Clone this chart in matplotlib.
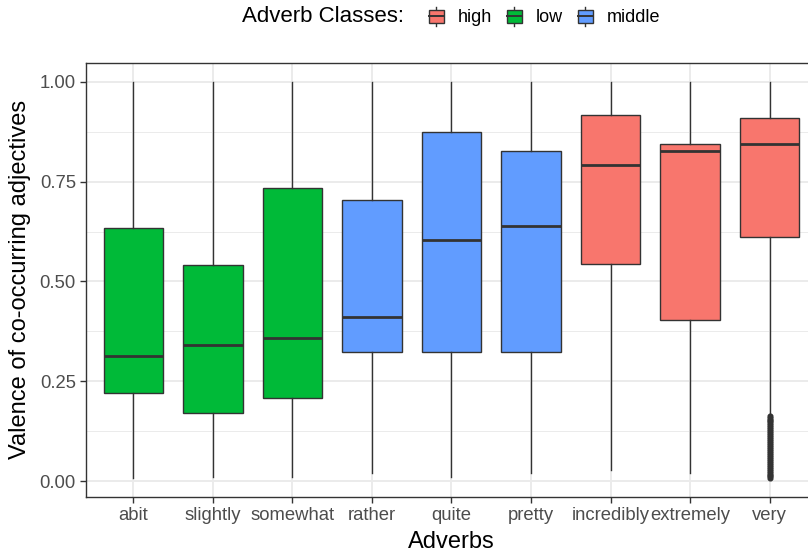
import numpy as np
import matplotlib.pyplot as plt
from matplotlib.patches import Rectangle
from matplotlib.lines import Line2D
from matplotlib.legend_handler import HandlerBase

plt.rcParams['font.family'] = ['Liberation Sans', 'DejaVu Sans']

# box statistics per adverb (valence of co-occurring adjectives)
adverbs = ["abit", "slightly", "somewhat", "rather", "quite", "pretty",
           "incredibly", "extremely", "very"]
classes = ["low", "low", "low", "middle", "middle", "middle",
           "high", "high", "high"]
q1 = [0.220, 0.170, 0.209, 0.324, 0.324, 0.324, 0.543, 0.403, 0.612]
med = [0.314, 0.341, 0.358, 0.410, 0.604, 0.640, 0.792, 0.827, 0.845]
q3 = [0.633, 0.541, 0.734, 0.703, 0.874, 0.826, 0.917, 0.845, 0.909]
whis_lo = [0.008, 0.009, 0.009, 0.021, 0.009, 0.021, 0.028, 0.021, 0.167]
whis_hi = [1.0, 1.0, 1.0, 1.0, 1.0, 1.0, 1.0, 1.0, 1.0]
# low outliers for "very"
very_out = [0.163, 0.158, 0.154, 0.150, 0.145, 0.140, 0.136, 0.131, 0.126,
            0.121, 0.116, 0.111, 0.106, 0.101, 0.096, 0.091, 0.086, 0.081,
            0.076, 0.071, 0.066, 0.061, 0.056, 0.051, 0.046, 0.041, 0.036,
            0.031, 0.026, 0.021, 0.016, 0.012, 0.008]

class_colors = {"high": "#F8766D", "low": "#00BA38", "middle": "#619CFF"}
edge = "#333333"

stats = []
for i, a in enumerate(adverbs):
    stats.append(dict(label=a, q1=q1[i], med=med[i], q3=q3[i],
                      whislo=whis_lo[i], whishi=whis_hi[i],
                      fliers=very_out if a == "very" else []))

fig = plt.figure(figsize=(8.08, 5.52), dpi=100)
ax = fig.add_axes([0.106, 0.0996, 0.9055, 0.7868])

bp = ax.bxp(stats, positions=np.arange(1, 10), widths=0.75, patch_artist=True,
            showcaps=False,
            boxprops=dict(edgecolor=edge, linewidth=1.0),
            medianprops=dict(color=edge, linewidth=2.0),
            whiskerprops=dict(color=edge, linewidth=1.0),
            flierprops=dict(marker='o', markerfacecolor=edge, markeredgecolor=edge,
                            markersize=3.4, linestyle='none'),
            zorder=3)
for patch, c in zip(bp['boxes'], classes):
    patch.set_facecolor(class_colors[c])

ax.set_xlim(0.4, 9.6)
ax.set_ylim(-0.040, 1.048)
ax.set_yticks([0, 0.25, 0.5, 0.75, 1.0])
ax.set_yticks([0.125, 0.375, 0.625, 0.875], minor=True)
ax.set_yticklabels(["0.00", "0.25", "0.50", "0.75", "1.00"])
ax.set_xticks(np.arange(1, 10))
ax.set_xticklabels(adverbs)

ax.grid(True, which='major', color='#EBEBEB', linewidth=1.4, zorder=0)
ax.grid(True, which='minor', axis='y', color='#EBEBEB', linewidth=0.7, zorder=0)
ax.set_axisbelow(True)
for s in ax.spines.values():
    s.set_color(edge)
    s.set_linewidth(1.0)
ax.tick_params(which='major', length=4, width=1.0, color=edge,
               labelcolor='#4D4D4D', labelsize=13.3, pad=3)
ax.tick_params(which='minor', length=0)

ax.set_xlabel("Adverbs", fontsize=17, labelpad=5)
ax.set_ylabel("Valence of co-occurring adjectives", fontsize=17, labelpad=6)


# legend key that looks like a little boxplot
class BoxKey(HandlerBase):
    def create_artists(self, legend, orig, xd, yd, w, h, fontsize, trans):
        r = Rectangle((xd, yd - 0.1 * h), w, h * 1.2, facecolor=orig.get_facecolor(),
                      edgecolor=edge, linewidth=1.0, transform=trans)
        m = Line2D([xd, xd + w], [yd + h / 2, yd + h / 2], color=edge,
                   linewidth=1.4, transform=trans)
        top = Line2D([xd + w / 2] * 2, [yd + 1.1 * h, yd + 1.35 * h], color=edge,
                     linewidth=1.0, transform=trans)
        bot = Line2D([xd + w / 2] * 2, [yd - 0.1 * h, yd - 0.35 * h], color=edge,
                     linewidth=1.0, transform=trans)
        return [top, bot, r, m]


handles = [Rectangle((0, 0), 1, 1, facecolor=class_colors[k]) for k in ["high", "low", "middle"]]
fig.text(242 / 808, 1 - 17 / 552, "Adverb Classes:", fontsize=16, va='center', ha='left')
fig.legend(handles, ["high", "low", "middle"], handler_map={Rectangle: BoxKey()},
           loc='center left', bbox_to_anchor=(416 / 808, 1 - 17 / 552), ncol=3,
           frameon=False, fontsize=13, handlelength=0.83, handleheight=0.6,
           handletextpad=0.8, columnspacing=0.8, borderpad=0.2)

fig.savefig("out.png", dpi=100)
